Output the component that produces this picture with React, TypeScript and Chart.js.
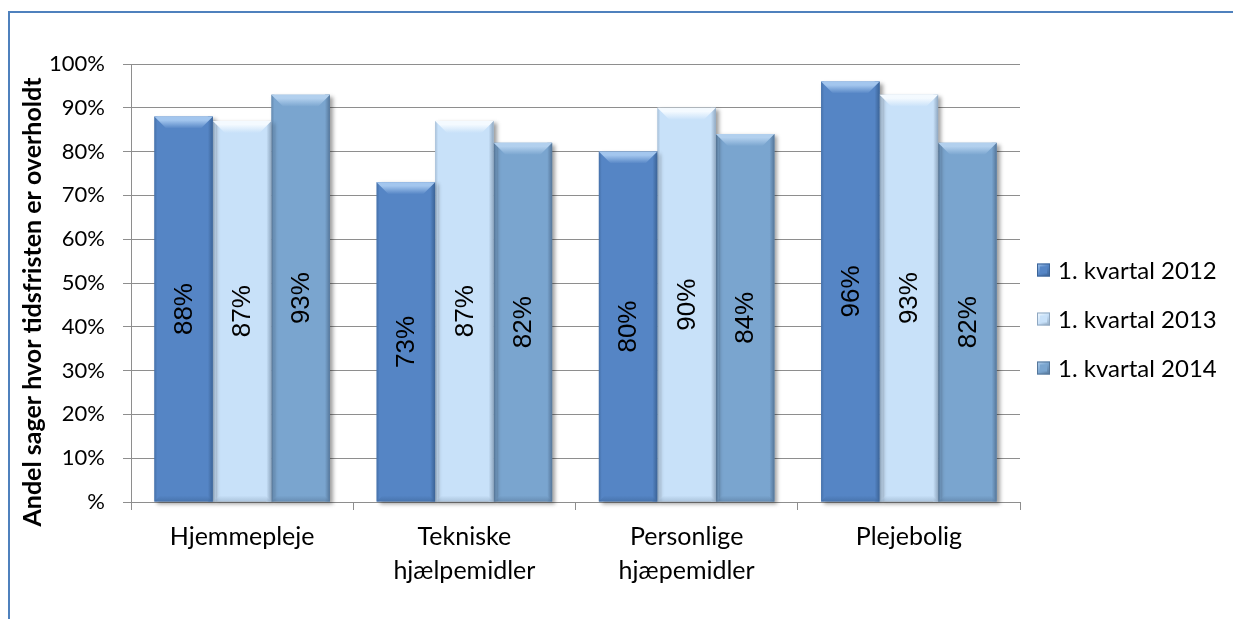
import React, { useEffect, useRef } from "react";
import { Chart, registerables } from "chart.js";

Chart.register(...registerables);

// Categories (multi-line labels as arrays)
const categories: (string | string[])[] = [
  "Hjemmepleje",
  ["Tekniske", "hjælpemidler"],
  ["Personlige", "hjæpemidler"],
  "Plejebolig",
];

const seriesNames = ["1. kvartal 2012", "1. kvartal 2013", "1. kvartal 2014"];

const values2012 = [88, 73, 80, 96];
const values2013 = [87, 87, 90, 93];
const values2014 = [93, 82, 84, 82];

const yTicks = [0, 10, 20, 30, 40, 50, 60, 70, 80, 90, 100];
const yTitle = "Andel sager hvor tidsfristen er overholdt";

// Per-series colours: face, top highlight, dark edge
const palette = [
  { base: "#5585c5", hi: "#a3c6ee", dark: "#3b6396" },
  { base: "#c8e1f9", hi: "#f4faff", dark: "#8fa7c0" },
  { base: "#7aa5cf", hi: "#b2d0ee", dark: "#557699" },
];

const CALIBRI_LIKE = "Lato, 'Open Sans', sans-serif";
const ARIAL_LIKE = "'Liberation Sans', Arial, sans-serif";

// Outer frame and the rotated axis title
const framePlugin = {
  id: "frame",
  beforeDraw(chart: any) {
    const ctx = chart.ctx;
    ctx.save();
    ctx.fillStyle = "#ffffff";
    ctx.fillRect(0, 0, chart.width, chart.height);
    ctx.strokeStyle = "#4f81bd";
    ctx.lineWidth = 2;
    ctx.beginPath();
    ctx.moveTo(9, chart.height);
    ctx.lineTo(9, 12);
    ctx.lineTo(chart.width, 12);
    ctx.stroke();

    ctx.translate(33, 302);
    ctx.rotate(-Math.PI / 2);
    ctx.fillStyle = "#000000";
    ctx.font = `bold 25px ${CALIBRI_LIKE}`;
    ctx.textAlign = "center";
    ctx.textBaseline = "middle";
    ctx.fillText(yTitle, 0, 0);
    ctx.restore();
  },
};

const bevelPlugin = {
  id: "bevel",
  beforeDatasetsDraw(chart: any) {
    const ctx = chart.ctx;
    ctx.save();
    ctx.shadowColor = "rgba(0,0,0,0.38)";
    ctx.shadowBlur = 4;
    ctx.shadowOffsetX = 3;
    ctx.shadowOffsetY = 2;
  },
  afterDatasetsDraw(chart: any) {
    const ctx = chart.ctx;
    ctx.restore();
    ctx.save();
    chart.data.datasets.forEach((ds: any, di: number) => {
      const c = palette[di];
      const meta = chart.getDatasetMeta(di);
      meta.data.forEach((el: any, idx: number) => {
        const { x, y, base, width } = el.getProps(["x", "y", "base", "width"], true);
        const left = x - width / 2;
        const right = x + width / 2;
        const top = y;
        const bottom = base;
        const b = 12;
        const bb = 6;

        // right edge shading
        const gr = ctx.createLinearGradient(right - 5, 0, right, 0);
        gr.addColorStop(0, c.base);
        gr.addColorStop(1, c.dark);
        ctx.fillStyle = gr;
        ctx.fillRect(right - 5, top, 5, bottom - top);

        // left edge shading
        const gl = ctx.createLinearGradient(left, 0, left + 3, 0);
        gl.addColorStop(0, c.dark);
        gl.addColorStop(1, c.base);
        ctx.globalAlpha = 0.6;
        ctx.fillStyle = gl;
        ctx.fillRect(left, top, 3, bottom - top);
        ctx.globalAlpha = 1;

        // top bevel
        const gt = ctx.createLinearGradient(0, top, 0, top + b);
        gt.addColorStop(0, c.hi);
        gt.addColorStop(0.3, c.hi);
        gt.addColorStop(1, c.base);
        ctx.fillStyle = gt;
        ctx.beginPath();
        ctx.moveTo(left, top);
        ctx.lineTo(right, top);
        ctx.lineTo(right - b, top + b);
        ctx.lineTo(left + b, top + b);
        ctx.closePath();
        ctx.fill();

        // bottom bevel
        const gb = ctx.createLinearGradient(0, bottom - bb, 0, bottom);
        gb.addColorStop(0, c.base);
        gb.addColorStop(1, c.dark);
        ctx.globalAlpha = 0.5;
        ctx.fillStyle = gb;
        ctx.beginPath();
        ctx.moveTo(left + bb, bottom - bb);
        ctx.lineTo(right - bb, bottom - bb);
        ctx.lineTo(right, bottom);
        ctx.lineTo(left, bottom);
        ctx.closePath();
        ctx.fill();
        ctx.globalAlpha = 1;

        // value label, rotated, centred on the bar
        const v = ds.data[idx];
        ctx.save();
        ctx.translate(x, (top + bottom) / 2);
        ctx.rotate(-Math.PI / 2);
        ctx.fillStyle = "#000000";
        ctx.font = `26px ${ARIAL_LIKE}`;
        ctx.textAlign = "center";
        ctx.textBaseline = "middle";
        ctx.fillText(`${v}%`, 0, 1);
        ctx.restore();
      });
    });
    ctx.restore();
  },
};

const legendPlugin = {
  id: "sideLegend",
  afterDraw(chart: any) {
    const ctx = chart.ctx;
    const n = chart.data.datasets.length;
    const spacing = 49;
    const cy = 319;
    const boxX = 1037;
    const box = 13;
    ctx.save();
    chart.data.datasets.forEach((ds: any, i: number) => {
      const c = palette[i];
      const yc = cy + (i - (n - 1) / 2) * spacing;
      const bx = boxX;
      const by = yc - box / 2;
      const g = ctx.createLinearGradient(bx, by, bx + box, by + box);
      g.addColorStop(0, c.hi);
      g.addColorStop(0.5, c.base);
      g.addColorStop(1, c.dark);
      ctx.fillStyle = g;
      ctx.fillRect(bx, by, box, box);
      ctx.fillStyle = c.base;
      ctx.fillRect(bx + 3, by + 3, box - 6, box - 6);
      ctx.strokeStyle = c.dark;
      ctx.lineWidth = 1;
      ctx.strokeRect(bx + 0.5, by + 0.5, box - 1, box - 1);
      ctx.fillStyle = "#000000";
      ctx.font = `24px ${CALIBRI_LIKE}`;
      ctx.textAlign = "left";
      ctx.textBaseline = "middle";
      ctx.fillText(ds.label, bx + box + 8, yc + 1);
    });
    ctx.restore();
  },
};

export default function App() {
  const canvasRef = useRef<HTMLCanvasElement | null>(null);

  useEffect(() => {
    if (!canvasRef.current) return;
    const datasets = [values2012, values2013, values2014].map((vals, i) => ({
      label: seriesNames[i],
      data: vals,
      backgroundColor: palette[i].base,
      borderWidth: 0,
      barPercentage: 1,
      categoryPercentage: 0.79,
      clip: false as any,
    }));

    const chart = new Chart(canvasRef.current, {
      type: "bar",
      data: { labels: categories, datasets },
      options: {
        responsive: false,
        animation: false,
        layout: { padding: { left: 8, top: 64, right: 213, bottom: 22 } },
        plugins: {
          legend: { display: false },
          tooltip: { enabled: false },
          title: { display: false },
        },
        scales: {
          x: {
            grid: {
              offset: true,
              drawOnChartArea: false,
              color: "#8e8e8e",
              tickLength: 8,
            },
            border: { color: "#8e8e8e", width: 1 },
            ticks: {
              color: "#000000",
              font: { family: CALIBRI_LIKE, size: 25, lineHeight: 1.36 },
              padding: 10,
              maxRotation: 0,
              autoSkip: false,
            },
            afterFit: (s: any) => {
              s.height = 95;
            },
          },
          y: {
            min: 0,
            max: 100,
            afterBuildTicks: (s: any) => {
              s.ticks = yTicks.map((v) => ({ value: v }));
            },
            ticks: {
              color: "#000000",
              font: { family: CALIBRI_LIKE, size: 22 },
              padding: 18,
              callback: (v: any) => (Number(v) === 0 ? "%" : `${v}%`),
            },
            grid: { color: "#8e8e8e", tickLength: 8, lineWidth: 1 },
            border: { color: "#8e8e8e", width: 1 },
            afterFit: (s: any) => {
              s.width = 123;
            },
          },
        },
      },
      plugins: [framePlugin, bevelPlugin, legendPlugin],
    });

    return () => chart.destroy();
  }, []);

  return (
    <div style={{ position: "absolute", left: 0, top: 0, width: 1233, height: 619 }}>
      <canvas ref={canvasRef} width={1233} height={619} style={{ display: "block" }} />
    </div>
  );
}
